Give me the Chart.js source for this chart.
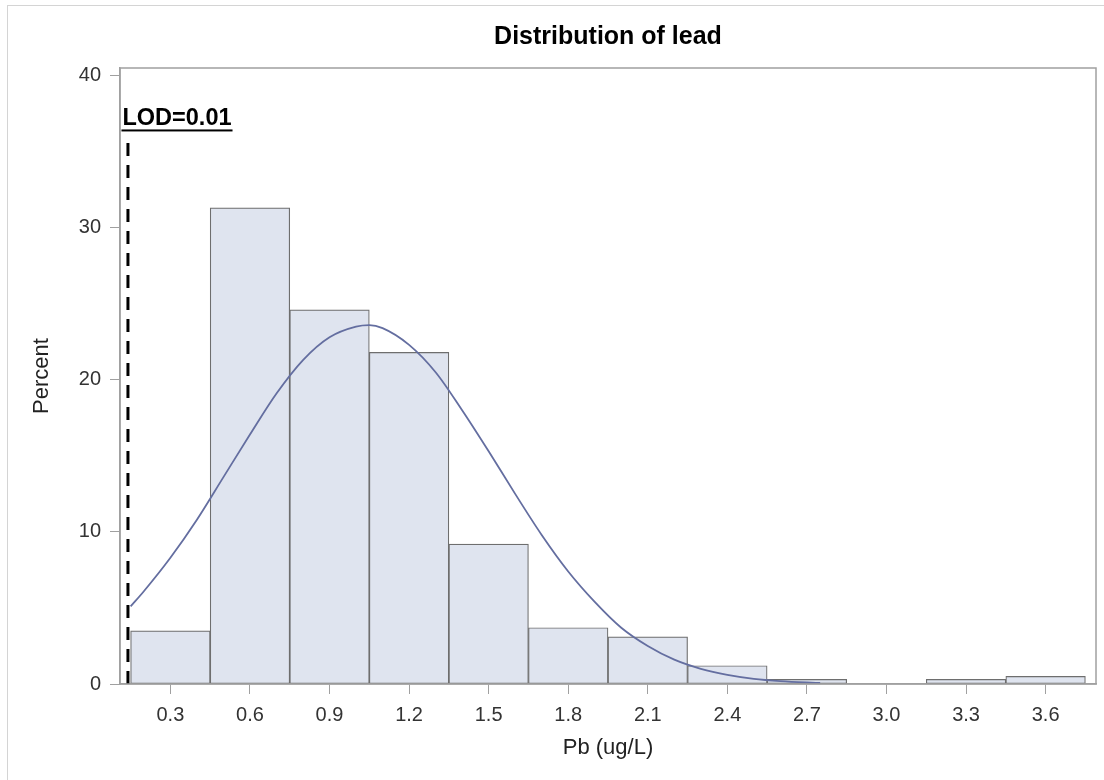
<!DOCTYPE html>
<html><head><meta charset="utf-8">
<script src="https://cdn.jsdelivr.net/npm/chart.js@4.4.1/dist/chart.umd.min.js"></script>
<style>
html,body{margin:0;padding:0;background:#fff;}
#wrap{position:relative;width:1104px;height:780px;overflow:hidden;}
#frame{position:absolute;left:7px;top:5px;right:-5px;bottom:-5px;border-left:1px solid #d4d4d4;border-top:1px solid #d4d4d4;pointer-events:none;}
</style></head><body>
<div id="wrap"><canvas id="c" width="1104" height="780"></canvas><div id="frame"></div></div>
<script>
// ---- data ----
const BIN_CENTERS = [0.3, 0.6, 0.9, 1.2, 1.5, 1.8, 2.1, 2.4, 2.7, 3.0, 3.3, 3.6];
const PERCENT     = [3.5, 31.3, 24.6, 21.8, 9.2, 3.7, 3.1, 1.2, 0.3, 0, 0.3, 0.5];
const X_TICKS = [0.3, 0.6, 0.9, 1.2, 1.5, 1.8, 2.1, 2.4, 2.7, 3.0, 3.3, 3.6];
const Y_TICKS = [0, 10, 20, 30, 40];
const CURVE_X = [0.15, 0.2, 0.3, 0.4, 0.5, 0.6, 0.7, 0.8, 0.9, 1.0, 1.05, 1.1, 1.2, 1.3, 1.4, 1.5, 1.6, 1.7, 1.8, 1.9, 2.0, 2.1, 2.2, 2.3, 2.4, 2.5, 2.6, 2.7, 2.75];
const CURVE_Y = [5.1, 6.1, 8.3, 10.8, 13.6, 16.4, 19.1, 21.3, 22.8, 23.5, 23.6, 23.4, 22.3, 20.5, 18.0, 15.3, 12.5, 9.8, 7.4, 5.4, 3.7, 2.5, 1.6, 1.0, 0.6, 0.34, 0.19, 0.1, 0.07];
const LOD_X = 0.14;
const LOD_TOP = 36;
const LOD_LABEL = 'LOD=0.01';
const TITLE = 'Distribution of lead';
const X_TITLE = 'Pb (ug/L)';
const Y_TITLE = 'Percent';
const X_RANGE = [0.11, 3.79];
const Y_RANGE = [0, 40.5];

const FONT = '"Liberation Sans", Arial, sans-serif';
const AXIS_GRAY = '#a0a0a0';

const overlay = {
  id: 'overlay',
  afterDatasetsDraw(chart) {
    const {ctx, chartArea: a, scales: {x, y}} = chart;
    ctx.save();
    ctx.strokeStyle = AXIS_GRAY;
    ctx.lineWidth = 1.5;
    ctx.strokeRect(a.left, a.top, a.right - a.left, a.bottom - a.top);
    const px = x.getPixelForValue(LOD_X);
    const py = y.getPixelForValue(LOD_TOP);
    ctx.font = 'bold 23.5px ' + FONT;
    ctx.fillStyle = '#000';
    ctx.textAlign = 'left';
    ctx.textBaseline = 'alphabetic';
    const tx = px - 5.5, ty = py - 11;
    ctx.fillText(LOD_LABEL, tx, ty);
    const w = ctx.measureText(LOD_LABEL).width;
    ctx.fillRect(tx - 1, ty + 4, w + 2, 2);
    ctx.restore();
  }
};

new Chart(document.getElementById('c'), {
  type: 'bar',
  data: {
    datasets: [
      {
        type: 'line',
        data: [{x: LOD_X, y: 0}, {x: LOD_X, y: LOD_TOP}],
        borderColor: '#000',
        borderWidth: 3,
        borderDash: [13, 9],
        pointRadius: 0,
        fill: false,
        order: 1
      },
      {
        type: 'line',
        data: CURVE_X.map((v, i) => ({x: v, y: CURVE_Y[i]})),
        borderColor: '#646ea0',
        borderWidth: 1.8,
        pointRadius: 0,
        fill: false,
        cubicInterpolationMode: 'monotone',
        order: 2
      },
      {
        type: 'bar',
        data: BIN_CENTERS.map((v, i) => ({x: v, y: PERCENT[i]})),
        backgroundColor: '#dfe4ef',
        borderColor: '#6e6e6e',
        borderWidth: 1.2,
        borderSkipped: false,
        barPercentage: 1,
        categoryPercentage: 1,
        grouped: false,
        order: 3
      }
    ]
  },
  options: {
    responsive: false,
    animation: false,
    devicePixelRatio: 1,
    layout: {padding: {left: 0, right: 8, top: 0, bottom: 0}},
    plugins: {
      legend: {display: false},
      tooltip: {enabled: false},
      title: {
        display: true,
        text: TITLE,
        fullSize: false,
        color: '#000',
        font: {family: FONT, size: 25, weight: 'bold', lineHeight: 1.2},
        padding: {top: 22.5, bottom: 15.5}
      }
    },
    scales: {
      x: {
        type: 'linear',
        min: X_RANGE[0],
        max: X_RANGE[1],
        offset: false,
        afterBuildTicks: s => { s.ticks = X_TICKS.map(v => ({value: v})); },
        afterFit: s => { s.height = 96; },
        grid: {offset: false, drawOnChartArea: false, drawTicks: true, tickLength: 10, tickColor: AXIS_GRAY, color: AXIS_GRAY},
        border: {display: true, color: AXIS_GRAY, width: 1.5},
        ticks: {
          autoSkip: false,
          maxRotation: 0,
          padding: 9,
          color: '#333',
          font: {family: FONT, size: 20},
          callback: v => Number(v).toFixed(1)
        },
        title: {
          display: true,
          text: X_TITLE,
          color: '#222',
          font: {family: FONT, size: 22, lineHeight: 1.2},
          padding: {top: 0, bottom: 18.8}
        }
      },
      y: {
        type: 'linear',
        min: Y_RANGE[0],
        max: Y_RANGE[1],
        afterBuildTicks: s => { s.ticks = Y_TICKS.map(v => ({value: v})); },
        afterFit: s => { s.width = 120; },
        grid: {drawOnChartArea: false, drawTicks: true, tickLength: 10, tickColor: AXIS_GRAY, color: AXIS_GRAY},
        border: {display: true, color: AXIS_GRAY, width: 1.5},
        ticks: {
          padding: 9,
          color: '#333',
          font: {family: FONT, size: 20},
          callback: v => String(v)
        },
        title: {
          display: true,
          text: Y_TITLE,
          color: '#222',
          font: {family: FONT, size: 22, lineHeight: 1.2},
          padding: {top: 28.5, bottom: 0}
        }
      }
    }
  },
  plugins: [overlay]
});
</script>
</body></html>
